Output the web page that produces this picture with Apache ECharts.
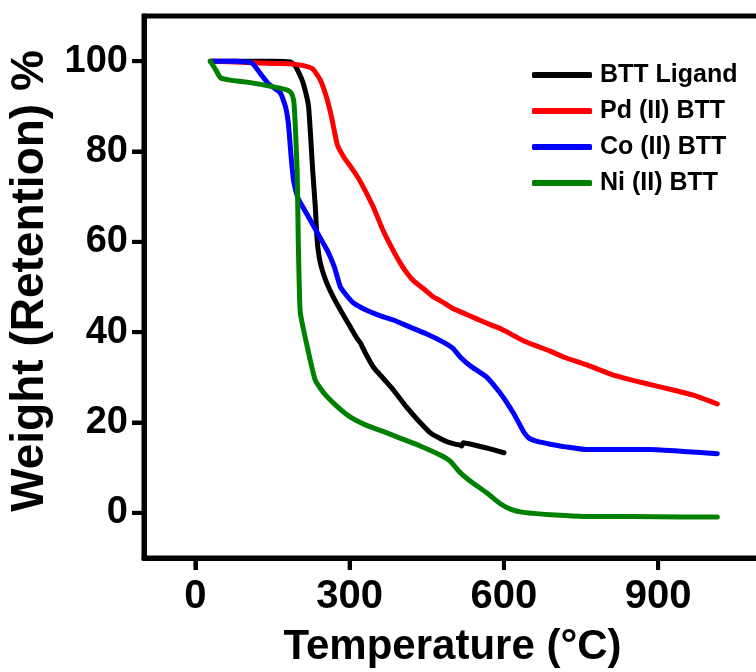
<!DOCTYPE html>
<html>
<head>
<meta charset="utf-8">
<script src="https://cdn.jsdelivr.net/npm/echarts@6/dist/echarts.min.js"></script>
<style>
  html, body { margin: 0; padding: 0; background: #fff; }
  #chart { width: 756px; height: 672px; }
</style>
</head>
<body>
<div id="chart"></div>
<script>
// TGA curves: temperature (°C) and weight retention (%)
const seriesNames = ['BTT Ligand', 'Pd (II) BTT', 'Co (II) BTT', 'Ni (II) BTT'];

const ligandTemp = [29, 100, 150, 185, 194, 203, 210, 220, 228, 233, 237, 243, 255, 268, 285, 301, 315, 321, 330, 346, 365, 385, 410, 432, 457, 475, 490, 505, 515, 518, 521, 550, 575, 600];
const ligandWeight = [100, 100, 100, 99.8, 99, 97, 95, 90, 76, 68, 60, 55.3, 51, 47.8, 44.3, 41.2, 38.5, 37.6, 35.5, 32.3, 29.8, 27.2, 23.5, 20.6, 17.7, 16.5, 15.7, 15.2, 15.0, 14.8, 15.5, 14.8, 14.1, 13.3];

const pdTemp = [30, 100, 150, 185, 210, 229, 243, 255, 265, 276, 290, 301, 320, 346, 365, 385, 400, 412, 425, 445, 463, 476, 500, 530, 560, 593, 640, 690, 716, 760, 813, 870, 929, 970, 1015];
const pdWeight = [100, 99.7, 99.5, 99.4, 99, 98.2, 95.8, 92, 87.5, 81.5, 78.5, 76.8, 73.5, 67.7, 62.5, 58, 55, 53, 51.3, 49.5, 47.8, 47, 45.3, 43.8, 42.3, 40.8, 38, 35.8, 34.5, 32.8, 30.5, 28.8, 27.2, 26, 24.1];

const coTemp = [35, 80, 110, 126, 142, 165, 175, 181, 186, 191, 200, 210, 220, 237, 256, 270, 282, 295, 307, 330, 360, 385, 420, 450, 482, 500, 515, 535, 567, 593, 619, 638, 648, 665, 690, 720, 760, 820, 885, 950, 1015];
const coWeight = [100, 100, 99.6, 97.3, 95, 93, 90, 86, 79, 73.5, 69.5, 67.5, 65.5, 62, 58.2, 54.5, 50, 48, 46.5, 45, 43.6, 42.7, 41, 39.6, 37.8, 36.5, 34.5, 32.5, 30, 26.5, 22, 18, 16.6, 15.8, 15.2, 14.6, 14.0, 14.0, 14.0, 13.6, 13.1];

const niTemp = [29, 40, 49, 68, 110, 152, 179, 186, 191, 194, 198, 200, 202, 204, 218, 233, 250, 276, 300, 334, 370, 399, 437, 476, 496, 515, 535, 567, 593, 615, 638, 700, 755, 850, 950, 1015];
const niWeight = [100, 98, 96.3, 95.8, 95.2, 94.3, 93.6, 93, 91.4, 86.3, 75.2, 60.4, 50, 44.3, 36.5, 29.4, 26.5, 23.5, 21.3, 19.3, 17.8, 16.5, 14.8, 12.8, 11.4, 8.9, 7, 4.4, 2, 0.7, 0.1, -0.5, -0.8, -0.8, -0.9, -0.9];

const xTicks = [0, 300, 600, 900];
const yTicks = [0, 20, 40, 60, 80, 100];

const X_MIN = -100, X_MAX = 1100, Y_MIN = -10, Y_MAX = 110;

const colors = ['#000000', '#ff0000', '#0000ff', '#008000'];
const FONT = '"Liberation Sans", Arial, sans-serif';
const TICK_LEN = 12;
const TICK_W = 4;

function pairs(t, w) { return t.map((v, i) => [v, w[i]]); }

const curves = [
  pairs(ligandTemp, ligandWeight),
  pairs(pdTemp, pdWeight),
  pairs(coTemp, coWeight),
  pairs(niTemp, niWeight)
];

const tickStyle = { show: true, inside: false, length: TICK_LEN, lineStyle: { color: '#000', width: TICK_W } };

const chart = echarts.init(document.getElementById('chart'), null, { renderer: 'canvas' });

chart.setOption({
  animation: false,
  backgroundColor: '#ffffff',
  grid: {
    left: 144, top: 16, right: -5, bottom: 114,
    outerBoundsMode: 'none',
    show: true, borderColor: '#000', borderWidth: 5, backgroundColor: 'transparent'
  },
  legend: {
    orient: 'vertical',
    left: 532, top: 60,
    padding: 0,
    icon: 'roundRect',
    itemWidth: 60, itemHeight: 6, itemGap: 6,
    textStyle: { fontFamily: FONT, fontWeight: 'bold', fontSize: 25, color: '#000', lineHeight: 30, padding: [0, 0, 0, 3] },
    data: seriesNames
  },
  xAxis: {
    type: 'value', min: X_MIN, max: X_MAX,
    axisLine: { show: true, onZero: false, lineStyle: { color: '#000', width: 5 } },
    splitLine: { show: false },
    axisTick: Object.assign({ customValues: xTicks }, tickStyle),
    axisLabel: { customValues: xTicks, margin: 19, color: '#000', fontFamily: FONT, fontWeight: 'bold', fontSize: 40 },
    name: 'Temperature (°C)', nameLocation: 'middle', nameGap: 68,
    nameTextStyle: { color: '#000', fontFamily: FONT, fontWeight: 'bold', fontSize: 42 }
  },
  yAxis: {
    type: 'value', min: Y_MIN, max: Y_MAX,
    axisLine: { show: true, onZero: false, lineStyle: { color: '#000', width: 5 } },
    splitLine: { show: false },
    axisTick: Object.assign({ customValues: yTicks }, tickStyle),
    axisLabel: { customValues: yTicks, margin: 16, color: '#000', fontFamily: FONT, fontWeight: 'bold', fontSize: 38 },
    name: 'Weight (Retention) %', nameLocation: 'middle', nameGap: 91, nameRotate: 90,
    nameTextStyle: { color: '#000', fontFamily: FONT, fontWeight: 'bold', fontSize: 46, padding: [0, 0, 0, 12] }
  },
  series: curves.map((d, i) => ({
    name: seriesNames[i],
    type: 'line',
    data: d,
    showSymbol: false,
    symbol: 'none',
    smooth: 0.15,
    color: colors[i],
    lineStyle: { color: colors[i], width: 5, cap: 'round', join: 'round' },
    z: 2 + i
  }))
});

// Outward tick marks on the frame as filled bars, placed via the axis scales
const tickMarks = [];
xTicks.forEach(v => {
  const p = chart.convertToPixel({ xAxisIndex: 0, yAxisIndex: 0 }, [v, Y_MIN]);
  if (!p) return;
  tickMarks.push({
    type: 'rect', z: 100, silent: true,
    shape: { x: p[0] - TICK_W / 2, y: p[1], width: TICK_W, height: TICK_LEN },
    style: { fill: '#000' }
  });
});
yTicks.forEach(v => {
  const p = chart.convertToPixel({ xAxisIndex: 0, yAxisIndex: 0 }, [X_MIN, v]);
  if (!p) return;
  tickMarks.push({
    type: 'rect', z: 100, silent: true,
    shape: { x: p[0] - TICK_LEN, y: p[1] - TICK_W / 2, width: TICK_LEN, height: TICK_W },
    style: { fill: '#000' }
  });
});
chart.setOption({ graphic: tickMarks });
</script>
</body>
</html>
